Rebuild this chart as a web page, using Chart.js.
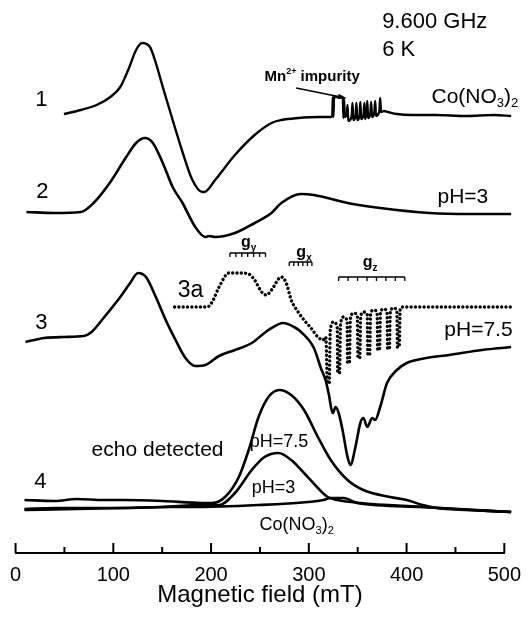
<!DOCTYPE html>
<html>
<head>
<meta charset="utf-8">
<script src="https://cdn.jsdelivr.net/npm/chart.js@4.4.1/dist/chart.umd.min.js"></script>
<style>
  html, body { margin: 0; padding: 0; background: #fff; }
</style>
</head>
<body>
<canvas id="epr" width="531" height="621"></canvas>
<script>
// x axis ticks (mT)
const fieldTicks = [0, 100, 200, 300, 400, 500];

// 1: Co(NO3)2, cw EPR (signal in arbitrary units, stacked)
const field1 = [49.5, 66.7, 82.9, 97.0, 107.1, 115.2, 123.3, 129.4, 137.5, 143.5, 150.6, 160.7, 170.8, 180.9, 191.0, 193.0, 204.2, 224.4, 244.6, 261.8, 271.9, 289.1, 310, 322.4,
  324.0, 324.5, 325.2, 325.8, 334.8, 335.4, 336.0, 336.8, 338.8, 339.6, 340.4, 343.9, 344.7, 345.5, 347.9, 348.7, 349.5, 351.9, 352.7, 353.5,
  356.0, 356.8, 357.6, 359.0, 359.8, 360.6, 363.0, 363.8, 364.6, 367.1, 367.9, 368.7, 372.2, 373.0, 373.8, 377, 381,
  390, 406, 430, 460, 490, 507];
const signal1 = [439, 443, 448, 456, 466, 483, 503, 510, 506, 490, 466, 433, 401, 373, 361, 361, 373, 398, 418, 430, 433, 435, 436, 436,
  437, 456, 436, 456, 456, 435, 454, 436, 438, 448, 432, 437, 450, 433, 438, 450, 433, 437, 451, 434,
  438, 450, 434, 440, 452, 435, 440, 451, 436, 441, 452, 437, 442, 455, 441, 442, 441,
  439, 438, 438, 437, 438, 437];

// 2: pH=3
const field2 = [11.1, 39.4, 66.7, 79.8, 97.0, 113.2, 123.3, 132.4, 140.5, 150.6, 160.7, 170.8, 183.9, 194.1, 198.1, 204.2, 224.4, 244.6, 261.8, 271.9, 292.1, 305.2, 339.6, 373.0, 423.5, 465, 507];
const signal2 = [341, 340, 341, 350, 371, 396, 410, 415, 410, 390, 366, 350, 326, 316, 317, 316, 320, 330, 340, 350, 359, 358, 350, 345, 340, 339, 339];

// 3: pH=7.5
const field3 = [10.1, 29.3, 49.5, 69.7, 77.8, 90.0, 107.1, 117.2, 125.3, 133.4, 143.5, 153.6, 163.7, 173.8, 183.9, 194.1, 208.2, 224.4, 241.6, 258.7, 273.9, 285.0, 292.1,
  305.2, 312.3, 317.4, 320.4, 324.4, 327.5, 330.5, 334.5, 339.6, 342.6, 347.7, 352.7, 355.8, 359.8, 364.9, 367.9, 373.0, 380.0, 390.1, 400.2, 420.5, 443.7, 477.1, 507];
const signal3 = [211, 215, 216, 217, 221, 235, 256, 270, 280, 276, 256, 233, 213, 195, 187, 188, 197, 203, 210, 223, 230, 226, 221,
  205, 185, 172, 159, 140, 146, 140, 123, 96, 88, 106, 130, 135, 126, 135, 133, 146, 170, 183, 190, 195, 198, 203, 206];

// 3a: simulation (dotted)
const field3a = [162.7, 196.1, 201.1, 208.2, 218.3, 228.4, 238.5, 244.6, 251.7, 256.7, 261.8, 271.9, 276.9, 282.0, 289.1, 295.1, 302.2, 309.3, 314.3, 317.4,
  319.1, 320.9, 321.9, 325.4, 329.1,
  329.6, 331.4, 332.4, 335.6, 339.2,
  339.7, 341.5, 342.5, 346.0, 349.7,
  350.3, 352.1, 353.1, 356.3, 359.8,
  360.4, 362.2, 363.2, 366.4, 369.9,
  370.5, 372.3, 373.3, 376.5, 380.0,
  380.6, 382.4, 383.4, 386.6, 390.1,
  390.7, 392.5, 393.5, 396.0, 450, 507];
const signal3a = [246, 246, 251, 266, 280, 280, 279, 273, 261, 258, 263, 276, 270, 253, 241, 233, 225, 216, 213, 216,
  170, 170, 222, 231, 225,
  180, 180, 228, 236, 232,
  190, 190, 234, 240, 236,
  195, 195, 237, 241, 238,
  198, 198, 239, 243, 240,
  203, 203, 240, 244, 241,
  204, 204, 241, 245, 242,
  206, 206, 244, 246, 246, 246];

// 4: echo detected
const fieldEcho75 = [9.1, 40, 62.7, 90, 110.2, 150.6, 191.0, 201.1, 214.3, 228.4, 238.5, 248.6, 258.7, 269.9, 282.0, 295.1, 309.3, 322.4, 339.6, 355.8, 383.1, 400.2, 416.4, 430.6, 464, 507];
const echo75 = [53, 52, 54, 53, 53, 52, 50, 50, 56, 76, 103, 136, 156, 163, 158, 143, 116, 93, 73, 63, 56, 53, 48, 45, 43, 41];
const fieldEcho3 = [9.1, 40, 62.7, 110.2, 150.6, 191.0, 208.2, 224.4, 241.6, 254.7, 268.9, 282.0, 295.1, 309.3, 319.4, 329.5, 352.7, 416.4, 464, 507];
const echo3 = [44, 45, 45, 45, 46, 48, 48, 60, 83, 96, 100, 93, 80, 65, 56, 53, 50, 46, 43, 41];
const fieldEchoCo = [9.1, 62.7, 110.2, 150.6, 180.9, 248.6, 299.2, 315, 322.4, 335.6, 349.7, 416.4, 507];
const echoCo = [43, 44, 45, 46, 46, 48, 51, 53, 55, 55, 50, 46, 41];

const FONT = '"Liberation Sans", Arial, sans-serif';

const pts = (xs, ys) => xs.map((x, i) => ({ x: x, y: ys[i] }));

const trace = (xs, ys, extra) => Object.assign({
  data: pts(xs, ys),
  borderColor: '#000',
  borderWidth: 2.6,
  pointRadius: 0,
  fill: false,
  cubicInterpolationMode: 'monotone',
  clip: 12
}, extra || {});

// text pieces: [text, 'n' | 'sub' | 'sup']
function richText(ctx, parts, x, y, size, weight, align) {
  const big = weight + ' ' + size + 'px ' + FONT;
  const small = weight + ' ' + Math.round(size * 0.62) + 'px ' + FONT;
  let w = 0;
  parts.forEach(p => {
    ctx.font = p[1] === 'n' ? big : small;
    w += ctx.measureText(p[0]).width;
  });
  let cx = align === 'center' ? x - w / 2 : x;
  ctx.textAlign = 'left';
  ctx.textBaseline = 'middle';
  parts.forEach(p => {
    ctx.font = p[1] === 'n' ? big : small;
    let dy = 0;
    if (p[1] === 'sub') dy = size * 0.32;
    if (p[1] === 'sup') dy = -size * 0.38;
    ctx.fillText(p[0], cx, y + dy);
    cx += ctx.measureText(p[0]).width;
  });
}

const labels = [
  { t: [['1', 'n']], x: 26.3, y: 453, s: 22, a: 'center' },
  { t: [['2', 'n']], x: 27.3, y: 361, s: 22, a: 'center' },
  { t: [['3', 'n']], x: 26.3, y: 230, s: 22, a: 'center' },
  { t: [['3a', 'n']], x: 178.9, y: 262, s: 23, a: 'center' },
  { t: [['4', 'n']], x: 25.3, y: 71, s: 22, a: 'center' },
  { t: [['9.600 GHz', 'n']], x: 375, y: 531, s: 22 },
  { t: [['6 K', 'n']], x: 375, y: 503, s: 22 },
  { t: [['Co(NO', 'n'], ['3', 'sub'], [')', 'n'], ['2', 'sub']], x: 425.5, y: 456, s: 21 },
  { t: [['pH=3', 'n']], x: 431.6, y: 356, s: 21 },
  { t: [['pH=7.5', 'n']], x: 438.6, y: 223, s: 21 },
  { t: [['echo detected', 'n']], x: 77.8, y: 103, s: 21 },
  { t: [['pH=7.5', 'n']], x: 239.5, y: 111, s: 18 },
  { t: [['pH=3', 'n']], x: 241.6, y: 65, s: 18 },
  { t: [['Co(NO', 'n'], ['3', 'sub'], [')', 'n'], ['2', 'sub']], x: 249.6, y: 28, s: 18 },
  { t: [['Mn', 'n'], ['2+', 'sup'], [' impurity', 'n']], x: 254.7, y: 476, s: 15, w: 'bold' },
  { t: [['g', 'n'], ['y', 'sub']], x: 238.5, y: 310, s: 16, w: 'bold', a: 'center' },
  { t: [['g', 'n'], ['x', 'sub']], x: 295.1, y: 300, s: 16, w: 'bold', a: 'center' },
  { t: [['g', 'n'], ['z', 'sub']], x: 362.8, y: 290, s: 16, w: 'bold', a: 'center' }
];

// stick diagrams above 3a: [from, to, level, number of sticks]
const sticks = [
  [219.3, 255.7, 300, 7],
  [280.0, 303.2, 291, 6],
  [330.5, 398.2, 276, 8]
];

const decorations = {
  id: 'decorations',
  beforeDraw(chart) {
    const ctx = chart.ctx;
    ctx.save();
    ctx.fillStyle = '#fff';
    ctx.fillRect(0, 0, chart.width, chart.height);
    ctx.restore();
  },
  afterDraw(chart) {
    const { ctx, scales: { x, y } } = chart;
    ctx.save();
    ctx.strokeStyle = '#000';
    ctx.fillStyle = '#000';

    // inward tick marks on the field axis
    ctx.lineWidth = 2;
    x.ticks.forEach(t => {
      const px = x.getPixelForValue(t.value);
      const len = t.value % 100 === 0 ? 10 : 6;
      ctx.beginPath();
      ctx.moveTo(px, y.bottom);
      ctx.lineTo(px, y.bottom - len);
      ctx.stroke();
    });

    // g-value stick diagrams
    ctx.lineWidth = 1.3;
    sticks.forEach(([a, b, lv, n]) => {
      const x1 = x.getPixelForValue(a), x2 = x.getPixelForValue(b), py = y.getPixelForValue(lv);
      ctx.beginPath();
      ctx.moveTo(x1, py);
      ctx.lineTo(x2, py);
      for (let i = 0; i < n; i++) {
        const px = x1 + (x2 - x1) * i / (n - 1);
        ctx.moveTo(px, py);
        ctx.lineTo(px, py + 4);
      }
      ctx.stroke();
    });

    // arrow to the Mn2+ lines
    const ax1 = x.getPixelForValue(287), ay1 = y.getPixelForValue(465);
    const ax2 = x.getPixelForValue(337.6), ay2 = y.getPixelForValue(455);
    ctx.lineWidth = 1.5;
    ctx.beginPath();
    ctx.moveTo(ax1, ay1);
    ctx.lineTo(ax2, ay2);
    ctx.stroke();
    const ang = Math.atan2(ay2 - ay1, ax2 - ax1);
    ctx.beginPath();
    ctx.moveTo(ax2, ay2);
    ctx.lineTo(ax2 - 8 * Math.cos(ang - 0.35), ay2 - 8 * Math.sin(ang - 0.35));
    ctx.lineTo(ax2 - 8 * Math.cos(ang + 0.35), ay2 - 8 * Math.sin(ang + 0.35));
    ctx.closePath();
    ctx.fill();

    labels.forEach(l => {
      richText(ctx, l.t, x.getPixelForValue(l.x), y.getPixelForValue(l.y), l.s, l.w || 'normal', l.a || 'left');
    });
    ctx.restore();
  }
};

new Chart(document.getElementById('epr'), {
  type: 'line',
  data: {
    datasets: [
      trace(field1, signal1, { borderWidth: 2.4 }),
      trace(field2, signal2),
      trace(field3, signal3),
      trace(field3a, signal3a, { borderWidth: 3.4, borderDash: [0.01, 4.3], borderCapStyle: 'round' }),
      trace(fieldEcho75, echo75),
      trace(fieldEcho3, echo3),
      trace(fieldEchoCo, echoCo)
    ]
  },
  options: {
    responsive: false,
    animation: false,
    layout: { padding: { left: 11, right: 25, top: 0, bottom: 0 } },
    plugins: { legend: { display: false }, tooltip: { enabled: false } },
    scales: {
      x: {
        type: 'linear',
        min: 0,
        max: 500,
        afterFit: s => { s.height = 68; },
        grid: { display: false, drawTicks: false },
        border: { display: true, color: '#000', width: 2 },
        ticks: {
          stepSize: 50,
          autoSkip: false,
          maxRotation: 0,
          color: '#000',
          padding: 10,
          font: { family: FONT, size: 20 },
          callback: v => fieldTicks.includes(v) ? String(v) : ''
        },
        title: {
          display: true,
          text: 'Magnetic field (mT)',
          color: '#000',
          font: { family: FONT, size: 24 },
          padding: { top: 0, bottom: 11 }
        }
      },
      y: { display: false, min: 0, max: 553 }
    }
  },
  plugins: [decorations]
});
</script>
</body>
</html>
